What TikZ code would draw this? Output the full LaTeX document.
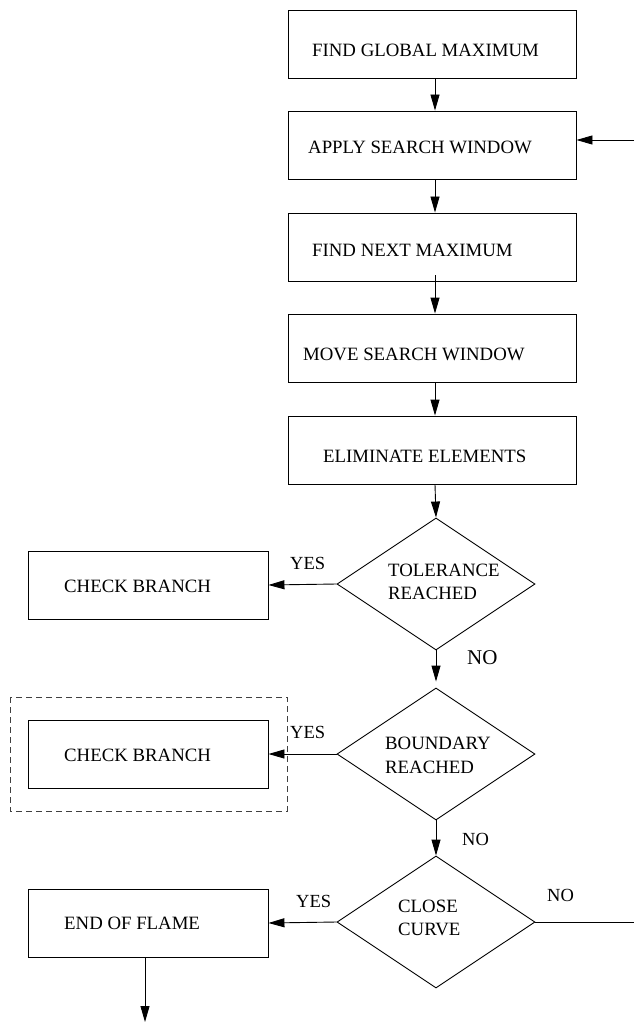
\documentclass[tikz,border=0pt]{standalone}
\usepackage{fontspec}
\setmainfont{Liberation Serif}
\usetikzlibrary{arrows.meta,shapes.geometric}

\tikzset{
  box/.style={draw, line width=0.9pt, minimum width=288pt, minimum height=68pt, inner sep=0pt},
  sidebox/.style={draw, line width=0.9pt, minimum width=240pt, minimum height=68pt, inner sep=0pt},
  decision/.style={draw, line width=0.9pt, diamond, minimum width=198pt, minimum height=132pt, inner sep=0pt},
  txt/.style={anchor=base west, inner sep=0pt, font=\fontsize{18.8}{23}\selectfont},
  lbl/.style={anchor=base west, inner sep=0pt, font=\fontsize{18.5}{22}\selectfont},
  flow/.style={line width=0.9pt, -{Triangle[length=16pt,width=9pt]}},
  plain/.style={line width=0.9pt}
}

\begin{document}
\begin{tikzpicture}[x=1pt, y=-1pt]
\useasboundingbox (0,0) rectangle (634,1024);

% main column of process boxes
\node[box] (b1) at (432,44) {};
\node[box] (b2) at (432,145) {};
\node[box] (b3) at (432,247) {};
\node[box] (b4) at (432,348) {};
\node[box] (b5) at (432,450) {};
\node[txt] (t1) at (312,57) {FIND GLOBAL MAXIMUM};
\node[txt] (t2) at (308,154) {APPLY SEARCH WINDOW};
\node[txt] (t3) at (312,256) {FIND NEXT MAXIMUM};
\node[txt] (t4) at (303,360) {MOVE SEARCH WINDOW};
\node[txt] (t5) at (323,462) {ELIMINATE ELEMENTS};

% decisions
\node[decision] (d1) at (436,584) {};
\node[decision] (d2) at (436,754) {};
\node[decision] (d3) at (436,922) {};
\node[txt] (dt1) at (388,576) {TOLERANCE};
\node[txt] (dt1b) at (388,599) {REACHED};
\node[txt] (dt2) at (385,749) {BOUNDARY};
\node[txt] (dt2b) at (385,773) {REACHED};
\node[txt] (dt3) at (398,912) {CLOSE};
\node[txt] (dt3b) at (398,935) {CURVE};

% branch boxes on the left
\node[sidebox] (c1) at (148,585) {};
\node[sidebox] (c2) at (148,754) {};
\node[sidebox] (e1) at (148,923) {};
\node[txt] (ct1) at (64,592) {CHECK BRANCH};
\node[txt] (ct2) at (64,761) {CHECK BRANCH};
\node[txt] (et1) at (64,929) {END OF FLAME};
\draw[dashed, dash pattern=on 6pt off 4pt, line width=0.8pt, black!75] (10,697) rectangle (287,811);

% yes / no labels
\node[lbl] (y1) at (290,569) {YES};
\node[lbl] (y2) at (290,738) {YES};
\node[lbl] (y3) at (296,907) {YES};
\node[lbl, font=\fontsize{21}{24}\selectfont] (n1) at (467,664) {NO};
\node[lbl] (n2) at (462,845) {NO};
\node[lbl] (n3) at (547,901) {NO};

% loose ends
\coordinate (loopin) at (634,140);
\coordinate (loopout) at (634,922);
\coordinate (finish) at (145,1022);

% connectors
\draw[flow] ([xshift=3pt]b1.south) -- ([xshift=3pt]b2.north);
\draw[flow] ([xshift=3pt]b2.south) -- ([xshift=3pt]b3.north);
\draw[flow] ([xshift=3pt,yshift=6pt]b3.south) -- ([xshift=3pt]b4.north);
\draw[flow] ([xshift=3pt]b4.south) -- ([xshift=3pt]b5.north);
\draw[flow] ([xshift=3pt]b5.south) -- (d1.north);
\draw[flow] (loopin) -- (loopin -| b2.east);
\draw[flow] (d1.west) -- (c1.east);
\draw[flow, shorten >=6pt] (d1.south) -- (d2.north);
\draw[flow] (d2.west) -- (c2.east);
\draw[flow] (d2.south) -- (d3.north);
\draw[flow] (d3.west) -- (e1.east);
\draw[plain] (d3.east) -- (d3.east -| loopout);
\draw[flow] (e1.south -| finish) -- (finish);
\end{tikzpicture}
\end{document}
